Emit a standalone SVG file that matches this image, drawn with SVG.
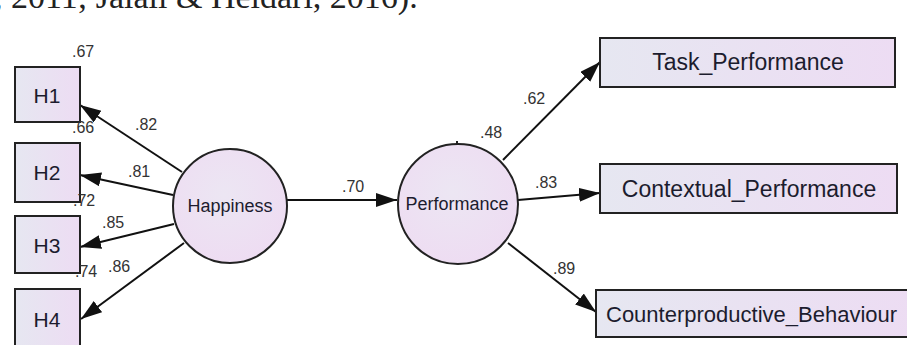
<svg xmlns="http://www.w3.org/2000/svg" width="907" height="345" viewBox="0 0 907 345">
<defs>
<linearGradient id="boxFill" x1="0" y1="0" x2="1" y2="0">
<stop offset="0" stop-color="#e6e7f1"/>
<stop offset="1" stop-color="#eddcf3"/>
</linearGradient>
<radialGradient id="circFill" cx="0.45" cy="0.4" r="0.7">
<stop offset="0" stop-color="#ece6f3"/>
<stop offset="1" stop-color="#eedbf2"/>
</radialGradient>
<marker id="arrow" markerUnits="userSpaceOnUse" markerWidth="24" markerHeight="16" refX="21" refY="7" orient="auto">
<path d="M0,0 L21,7 L0,14 z" fill="#111"/>
</marker>
</defs>
<style>
.box{fill:url(#boxFill);stroke:#222;stroke-width:2}
.circ{fill:url(#circFill);stroke:#222;stroke-width:2}
.lbl{font-family:"Liberation Sans",Arial,sans-serif;fill:#1c1c2e}
.big{font-size:21px}
.wide{font-size:23px}
.mid{font-size:18px}
.num{font-family:"Liberation Sans",Arial,sans-serif;font-size:16px;fill:#333}
.edge{stroke:#111;stroke-width:2;fill:none;marker-end:url(#arrow)}
.caption{font-family:"Liberation Serif","Times New Roman",serif;font-size:34px;fill:#222}
</style>
<rect width="907" height="345" fill="#ffffff"/>
<text class="caption" x="-6" y="8">, 2011; Jalali &amp; Heidari, 2016).</text>
<g id="connectors">
<line class="edge" x1="182" y1="172" x2="80" y2="105"/>
<line class="edge" x1="173" y1="195" x2="80" y2="175"/>
<line class="edge" x1="174" y1="224" x2="80" y2="247"/>
<line class="edge" x1="184" y1="243" x2="81" y2="319"/>
<line class="edge" x1="287" y1="200" x2="397" y2="200"/>
<line class="edge" x1="503" y1="160" x2="600" y2="62"/>
<line class="edge" x1="518" y1="200" x2="600" y2="193"/>
<line class="edge" x1="508" y1="243" x2="596" y2="312"/>
</g>
<g id="H1"><rect class="box" x="15" y="67" width="65" height="55"/><text class="lbl big" x="47" y="103" text-anchor="middle">H1</text></g>
<g id="H2"><rect class="box" x="15" y="143" width="65" height="59"/><text class="lbl big" x="47" y="180" text-anchor="middle">H2</text></g>
<g id="H3"><rect class="box" x="15" y="216" width="65" height="57"/><text class="lbl big" x="47" y="253" text-anchor="middle">H3</text></g>
<g id="H4"><rect class="box" x="15" y="289" width="65" height="62"/><text class="lbl big" x="47" y="327" text-anchor="middle">H4</text></g>
<g id="Happiness"><circle class="circ" cx="230" cy="206" r="57"/><text class="lbl mid" x="230" y="212" text-anchor="middle">Happiness</text></g>
<g id="Performance"><circle class="circ" cx="458" cy="204" r="60"/><line x1="457" y1="141" x2="457" y2="145" stroke="#222" stroke-width="2"/><text class="lbl mid" x="457" y="210" text-anchor="middle">Performance</text></g>
<g id="Task_Performance"><rect class="box" x="600" y="38" width="295" height="49"/><text class="lbl wide" x="748" y="70" text-anchor="middle">Task_Performance</text></g>
<g id="Contextual_Performance"><rect class="box" x="600" y="164" width="297" height="49"/><text class="lbl wide" x="749" y="197" text-anchor="middle">Contextual_Performance</text></g>
<g id="Counterproductive_Behaviour"><rect class="box" x="596" y="290" width="325" height="47"/><text class="lbl" x="606" y="322" font-size="22">Counterproductive_Behaviour</text></g>
<g id="labels">
<text class="num" x="72" y="57">.67</text>
<text class="num" x="72" y="133">.66</text>
<text class="num" x="73" y="206">.72</text>
<text class="num" x="75" y="277">.74</text>
<text class="num" x="135" y="130">.82</text>
<text class="num" x="128" y="177">.81</text>
<text class="num" x="102" y="228">.85</text>
<text class="num" x="108" y="272">.86</text>
<text class="num" x="342" y="192">.70</text>
<text class="num" x="480" y="138">.48</text>
<text class="num" x="535" y="188">.83</text>
<text class="num" x="523" y="104">.62</text>
<text class="num" x="553" y="274">.89</text>
</g>
</svg>
